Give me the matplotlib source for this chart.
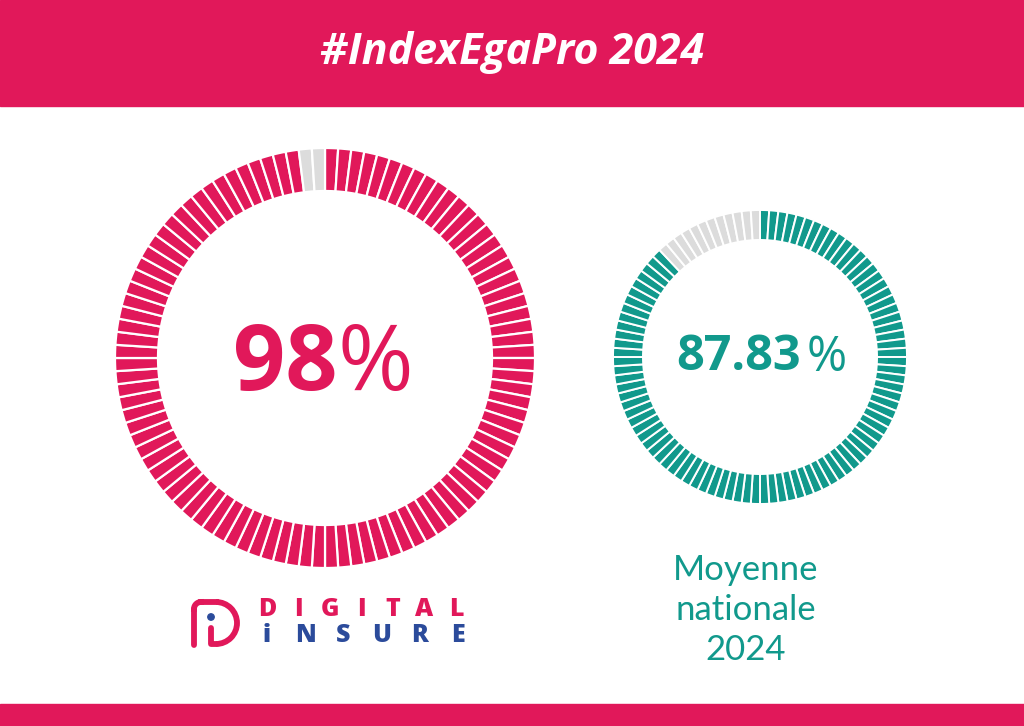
import matplotlib
matplotlib.use('Agg')
import matplotlib.pyplot as plt
from matplotlib.patches import Rectangle, Circle, Arc
import numpy as np

# values
title = '#IndexEgaPro 2024'
company_score = 98
national_score = 87.83
national_label = ['Moyenne', 'nationale', '2024']
n_segments = 100

PINK = '#E1185A'
TEAL = '#11998C'
GREY = '#DCDCDC'
NAVY = '#2B4B9B'

W, H = 1024, 726


def Y(y):
    # picture rows run down, data y runs up
    return H - y


def segmented_donut(ax, score, color, cx, cy, radius, ring, lw):
    filled = int(round(score))
    vals = [1] * n_segments
    cols = [color if i < filled else GREY for i in range(n_segments)]
    ax.pie(vals, colors=cols, startangle=90, counterclock=False,
           radius=radius, center=(cx, Y(cy)), frame=True,
           wedgeprops=dict(width=ring, edgecolor='white', linewidth=lw))


fig = plt.figure(figsize=(W / 100, H / 100), dpi=100)
ax = fig.add_axes([0, 0, 1, 1])

# banners
ax.add_patch(Rectangle((0, Y(106)), W, 106, color=PINK, zorder=0))
ax.add_patch(Rectangle((0, 0), W, H - 704, color=PINK, zorder=0))
ax.text(512, Y(52), title, color='white', fontsize=31, fontweight='bold',
        fontstyle='italic', family='Open Sans', ha='center', va='center')

# donuts
segmented_donut(ax, company_score, PINK, 325, 358, 210, 43, 1.6)
segmented_donut(ax, national_score, TEAL, 760, 357, 147, 30, 1.4)

# big numbers, the % sign is drawn thinner
ax.text(337, Y(366), '%d' % company_score, color=PINK, fontsize=66,
        fontweight='bold', family='Open Sans', ha='right', va='center')
ax.text(338, Y(366), '%', color=PINK, fontsize=66, fontweight='normal',
        family='Open Sans', ha='left', va='center')
ax.text(801, Y(358), '%.2f' % national_score, color=TEAL, fontsize=35,
        fontweight='bold', family='Open Sans', ha='right', va='center')
ax.text(807, Y(358), '%', color=TEAL, fontsize=35, fontweight='normal',
        family='Open Sans', ha='left', va='center')

ax.text(746, Y(610), '\n'.join(national_label), color=TEAL, fontsize=25,
        family='Lato', ha='center', va='center', linespacing=1.3)

# logo: rounded D with an i inside
lw = 4.2
ax.plot([194, 194], [Y(645), Y(609)], color=PINK, lw=lw, solid_capstyle='round')
t = np.linspace(np.pi, np.pi / 2, 20)
ax.plot(201 + 7 * np.cos(t), Y(609) + 7 * np.sin(t), color=PINK, lw=lw)
ax.plot([201, 216], [Y(602), Y(602)], color=PINK, lw=lw)
ax.add_patch(Arc((216, Y(623)), 42, 42, theta1=-90, theta2=90, color=PINK, lw=lw))
ax.plot([216, 211, 211], [Y(644), Y(644), Y(628)], color=PINK, lw=lw,
        solid_capstyle='round', solid_joinstyle='round')
ax.add_patch(Circle((211, Y(617)), 3.2, color=NAVY))

for i, ch in enumerate('DIGITAL'):
    ax.text(267 + i * 31.5, Y(609), ch, color=PINK, fontsize=18,
            fontweight='heavy', family='Open Sans', ha='center', va='center')
for i, ch in enumerate('iNSURE'):
    ax.text(267 + i * 38.2, Y(636), ch, color=NAVY, fontsize=18,
            fontweight='heavy', family='Open Sans', ha='center', va='center')

ax.set_xlim(0, W)
ax.set_ylim(0, H)
ax.set_aspect('equal')
ax.axis('off')

fig.savefig('out.png', dpi=100, facecolor='white')
